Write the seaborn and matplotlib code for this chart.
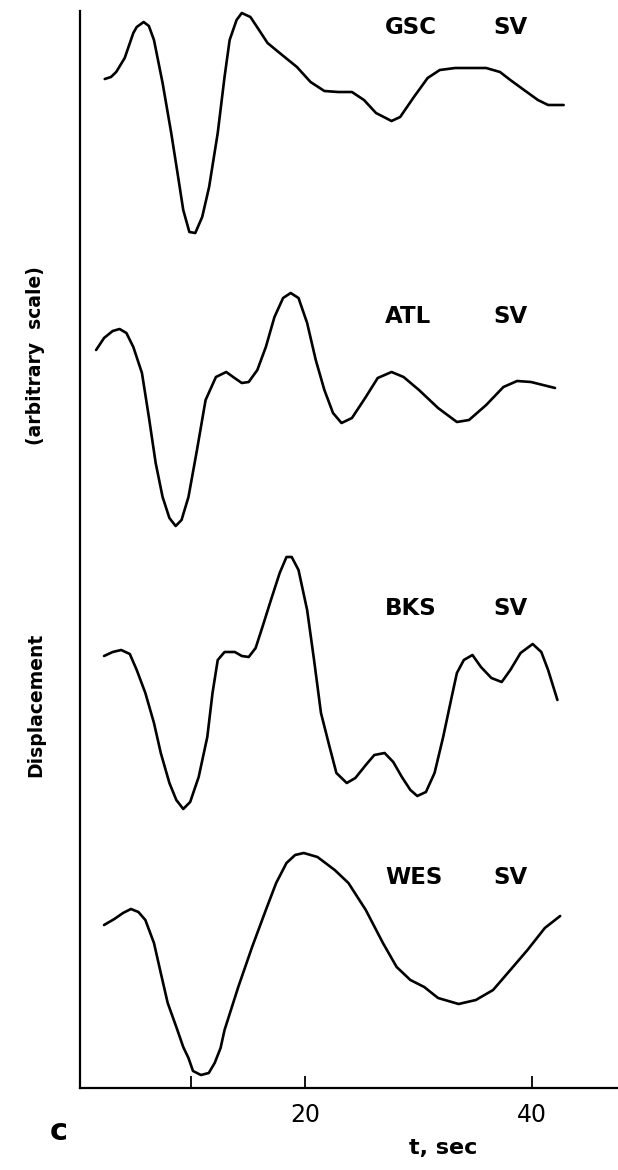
import numpy as np
import pandas as pd
import matplotlib
matplotlib.use("Agg")
import matplotlib.pyplot as plt
import seaborn as sns

# SV displacement traces (time in s, displacement in arbitrary units)
stations = ["GSC", "ATL", "BKS", "WES"]
component = "SV"

gsc_t = [2.36, 2.91, 3.37, 4.12, 4.88, 5.18, 5.79, 6.25, 6.70, 7.46, 8.22, 8.83,
         9.28, 9.82, 10.34, 10.95, 11.56, 12.32, 12.92, 13.37, 13.98, 14.44, 15.20,
         15.96, 16.71, 17.78, 19.30, 20.50, 21.72, 22.93, 24.15, 25.21, 26.27, 27.64,
         28.40, 29.61, 30.82, 31.89, 33.25, 34.77, 35.98, 37.20, 38.11, 39.32, 40.54,
         41.44, 42.81]
gsc_u = [0.0, 0.2, 0.7, 2.1, 4.6, 5.2, 5.7, 5.3, 3.9, -0.4, -5.4, -9.8,
         -13.1, -15.3, -15.4, -13.8, -10.8, -5.4, 0.2, 3.9, 5.9, 6.6, 6.2,
         4.9, 3.6, 2.6, 1.2, -0.3, -1.2, -1.3, -1.3, -2.1, -3.4, -4.2,
         -3.8, -1.8, 0.1, 0.9, 1.1, 1.1, 1.1, 0.7, -0.1, -1.1, -2.1,
         -2.6, -2.6]

atl_t = [1.60, 2.30, 3.06, 3.67, 4.27, 4.88, 5.64, 6.25, 6.85, 7.46, 8.06, 8.61,
         9.13, 9.74, 10.49, 11.25, 12.16, 13.07, 13.68, 14.44, 15.05, 15.81, 16.56,
         17.32, 18.08, 18.75, 19.44, 20.20, 20.96, 21.72, 22.48, 23.23, 24.15, 25.37,
         26.42, 27.64, 28.70, 30.06, 31.74, 33.40, 34.47, 35.98, 37.50, 38.71, 39.93,
         42.05]
atl_u = [0.0, 1.2, 1.9, 2.1, 1.7, 0.3, -2.3, -6.7, -11.3, -14.7, -16.8, -17.6,
         -17.0, -14.7, -10.0, -5.0, -2.7, -2.2, -2.7, -3.3, -3.2, -2.0, 0.3,
         3.3, 5.2, 5.7, 5.2, 2.7, -1.0, -4.0, -6.3, -7.3, -6.8, -4.7,
         -2.8, -2.2, -2.7, -4.0, -5.8, -7.2, -7.0, -5.5, -3.7, -3.1, -3.2,
         -3.8]

bks_t = [2.30, 3.06, 3.81, 4.57, 5.18, 5.94, 6.70, 7.30, 8.06, 8.67, 9.28, 9.89,
         10.64, 11.40, 11.86, 12.32, 12.92, 13.83, 14.44, 15.05, 15.66, 16.26, 17.01,
         17.78, 18.38, 18.84, 19.44, 20.20, 20.81, 21.42, 22.18, 22.78, 23.69, 24.45,
         25.37, 26.12, 27.03, 27.79, 28.55, 29.30, 29.91, 30.67, 31.43, 32.19, 32.94,
         33.40, 34.01, 34.77, 35.52, 36.44, 37.35, 38.11, 39.01, 40.08, 40.84, 41.44,
         42.26]
bks_u = [0.0, 0.4, 0.6, 0.2, -1.4, -3.7, -6.7, -9.7, -12.7, -14.4, -15.3, -14.6,
         -12.1, -8.1, -3.7, -0.4, 0.4, 0.4, 0.0, -0.1, 0.8, 2.9, 5.6,
         8.3, 9.9, 9.9, 8.6, 4.6, -0.4, -5.7, -9.1, -11.7, -12.7, -12.2,
         -10.9, -9.9, -9.7, -10.6, -12.1, -13.4, -14.0, -13.6, -11.7, -8.1, -4.1,
         -1.7, -0.4, 0.1, -1.1, -2.2, -2.6, -1.4, 0.3, 1.2, 0.4, -1.4,
         -4.4]

wes_t = [2.30, 3.21, 3.97, 4.67, 5.33, 5.94, 6.70, 7.30, 7.91, 8.67, 9.28, 9.74,
         10.14, 10.84, 11.53, 12.05, 12.57, 12.92, 14.13, 15.35, 16.56, 17.47, 18.38,
         19.14, 19.90, 21.11, 22.63, 23.84, 25.37, 26.88, 28.09, 29.30, 30.52, 31.74,
         33.55, 35.07, 36.59, 38.11, 39.62, 41.15, 42.50]
wes_u = [0.0, 0.6, 1.2, 1.6, 1.3, 0.5, -1.8, -4.8, -7.8, -10.2, -12.2, -13.3,
         -14.6, -15.0, -14.8, -13.8, -12.3, -10.5, -6.2, -2.2, 1.5, 4.2, 6.2,
         7.0, 7.2, 6.8, 5.5, 4.2, 1.5, -1.8, -4.2, -5.5, -6.2, -7.3,
         -7.9, -7.5, -6.5, -4.5, -2.5, -0.3, 0.9]

# vertical offset of each trace on the shared axis
offsets = [100.9, 73.8, 43.2, 16.3]

x_ticks = [10, 20, 40]
x_tick_labels = ["", "20", "40"]

times = [gsc_t, atl_t, bks_t, wes_t]
disps = [gsc_u, atl_u, bks_u, wes_u]

frames = []
for name, t, u, off in zip(stations, times, disps, offsets):
    frames.append(pd.DataFrame({"station": name, "t": t,
                                "y": np.asarray(u) + off}))
df = pd.concat(frames, ignore_index=True)

sns.set_style("white")
plt.rcParams["font.family"] = ["DejaVu Sans"]
plt.rcParams["text.color"] = "black"

fig = plt.figure(figsize=(6.18, 11.70), dpi=100)
ax = fig.add_axes([80 / 618, 82 / 1170, 538 / 618, 1077 / 1170])

sns.lineplot(data=df, x="t", y="y", units="station", estimator=None,
             sort=False, color="black", linewidth=1.9, ax=ax, legend=False)
for line in ax.lines:
    line.set_solid_joinstyle("round")
    line.set_solid_capstyle("round")

ax.set_xlim(0.18, 47.6)
ax.set_ylim(0, 107.7)

for side in ("top", "right"):
    ax.spines[side].set_visible(False)
for side in ("left", "bottom"):
    ax.spines[side].set_color("black")
    ax.spines[side].set_linewidth(1.6)

ax.set_yticks([])
ax.set_xticks(x_ticks)
ax.set_xticklabels(x_tick_labels)
ax.tick_params(axis="x", bottom=True, direction="in", length=9, width=1.3,
               pad=11, labelsize=17, colors="black")
ax.set_xlabel("")
ax.set_ylabel("")

# station / component labels
label_y = [106.05, 77.2, 48.0, 21.1]
for name, ly in zip(stations, label_y):
    ax.text(27.05, ly, name, ha="left", va="center", fontsize=16.5,
            fontweight="bold", color="black")
    ax.text(36.65, ly, component, ha="left", va="center", fontsize=16.5,
            fontweight="bold", color="black")

# axis titles
fig.text(36 / 618, 1 - 705 / 1170, "Displacement", rotation=90,
         ha="center", va="center", fontsize=13.5, fontweight="bold",
         color="black")
fig.text(36 / 618, 1 - 356 / 1170, "(arbitrary  scale)", rotation=90,
         ha="center", va="center", fontsize=13.5, fontweight="bold",
         color="black")
fig.text(443 / 618, 1 - 1148 / 1170, "t, sec", ha="center", va="center",
         fontsize=16, fontweight="bold", color="black")
fig.text(59 / 618, 1 - 1132 / 1170, "c", ha="center", va="center",
         fontsize=22, fontweight="bold", color="black")

fig.savefig("out.png", dpi=100)
